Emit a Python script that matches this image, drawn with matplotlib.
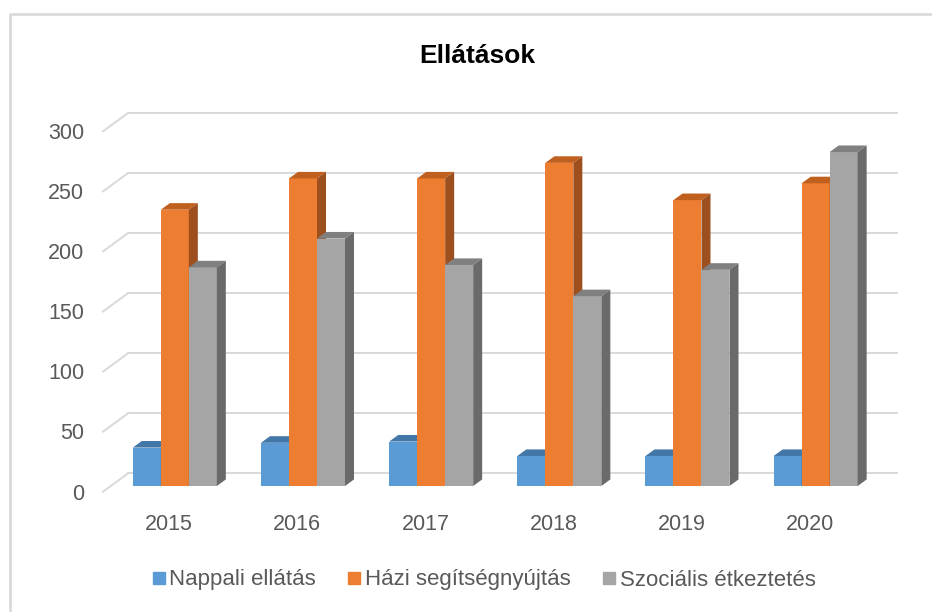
import matplotlib
matplotlib.use("Agg")
import matplotlib.pyplot as plt
import matplotlib.transforms as mtransforms
from matplotlib.patches import Polygon
from matplotlib.lines import Line2D

# ---- data ----
years = ["2015", "2016", "2017", "2018", "2019", "2020"]
nappali = [32, 36, 37, 25, 25, 25]
hazi = [230, 256, 256, 269, 238, 252]
szocialis = [182, 206, 184, 158, 180, 278]
series_names = ["Nappali ellátás", "Házi segítségnyújtás", "Szociális étkeztetés"]
yticks = [0, 50, 100, 150, 200, 250, 300]
title = "Ellátások"

front_colors = ["#5B9BD5", "#ED7D31", "#A5A5A5"]
top_colors = ["#4277A8", "#C0601F", "#808080"]
side_colors = ["#3A6A96", "#9E4F1E", "#6A6A6A"]

FONT = "Liberation Sans"
W, H = 932, 612
fig = plt.figure(figsize=(W / 100, H / 100), dpi=100)

# front plane of the 3D box (pixel layout)
x0f, x1f = 103, 872
yb, yt = 491.7, 131.3
ax = fig.add_axes([x0f / W, 1 - yb / H, (x1f - x0f) / W, (yb - yt) / H])
ax.set_xlim(-0.5, len(years) - 0.5)
ax.set_ylim(0, 300)
ax.axis("off")

DX, DY = 25.0, 18.3  # full depth offset in pixels
d0, d1 = 0.31, 0.67  # bar front/back depth fractions


def off(d, ex=0.0, ey=0.0):
    return mtransforms.ScaledTranslation((DX * d + ex) / 100, (DY * d + ey) / 100,
                                         fig.dpi_scale_trans)


ident = mtransforms.IdentityTransform()
grid_c = "#D9D9D9"

# back wall gridlines and side diagonals
for v in yticks:
    ax.plot([-0.5, len(years) - 0.5], [v, v], color=grid_c, lw=1.4,
            transform=ax.transData + off(1), clip_on=False, zorder=1)
    p = ax.transData.transform((-0.5, v))
    ax.add_artist(Line2D([p[0], p[0] + DX], [p[1], p[1] + DY], color=grid_c, lw=1.4,
                         transform=ident, clip_on=False, zorder=1))
    ax.text(-0.5, v, str(v), ha="right", va="baseline", fontsize=15.5, family=FONT,
            color="#595959", transform=ax.transData + off(0, -19, -7.8))

# bars
w = 28 / ((x1f - x0f) / len(years))
series = [nappali, hazi, szocialis]
for j, vals in enumerate(series):
    xs = [i + (j - 1) * w for i in range(len(years))]
    ax.bar(xs, vals, width=w, color=front_colors[j], linewidth=0,
           transform=ax.transData + off(d0), clip_on=False, zorder=3 + j)
    for x, v in zip(xs, vals):
        tl = ax.transData.transform((x - w / 2, v))
        tr = ax.transData.transform((x + w / 2, v))
        br = ax.transData.transform((x + w / 2, 0))
        a = (DX * d0, DY * d0)
        b = (DX * d1, DY * d1)
        top = [(tl[0] + a[0], tl[1] + a[1]), (tr[0] + a[0], tr[1] + a[1]),
               (tr[0] + b[0], tr[1] + b[1]), (tl[0] + b[0], tl[1] + b[1])]
        side = [(br[0] + a[0], br[1] + a[1]), (tr[0] + a[0], tr[1] + a[1]),
                (tr[0] + b[0], tr[1] + b[1]), (br[0] + b[0], br[1] + b[1])]
        ax.add_artist(Polygon(top, closed=True, facecolor=top_colors[j], lw=0,
                              transform=ident, clip_on=False, zorder=3 + j))
        ax.add_artist(Polygon(side, closed=True, facecolor=side_colors[j], lw=0,
                              transform=ident, clip_on=False, zorder=3 + j))

# category labels
for i, yl in enumerate(years):
    ax.text(i, 0, yl, ha="center", va="baseline", fontsize=15.5, family=FONT,
            color="#595959", transform=ax.transData + off(0, 2, -38.3))

# title
fig.text(477 / W, 1 - 63.3 / H, title, ha="center", va="baseline", fontsize=19,
         fontweight="bold", family=FONT, color="#000000")

# legend
handles = [Line2D([], [], marker="s", linestyle="none", markersize=8.6,
                  markerfacecolor=c, markeredgecolor=c) for c in front_colors]
fig.legend(handles, series_names, loc="center", bbox_to_anchor=(484 / W, 1 - 580 / H),
           ncol=3, frameon=False, handlelength=0.55, handletextpad=0.2,
           columnspacing=1.45, prop={"family": FONT, "size": 16},
           labelcolor="#595959")

# chart area border (left and top visible)
fig.add_artist(Line2D([9.5 / W, 9.5 / W, 1.0], [0.0, 1 - 13.5 / H, 1 - 13.5 / H],
                      transform=fig.transFigure, color="#D9D9D9", lw=1.9))

fig.savefig("out.png", dpi=100, facecolor="white")
